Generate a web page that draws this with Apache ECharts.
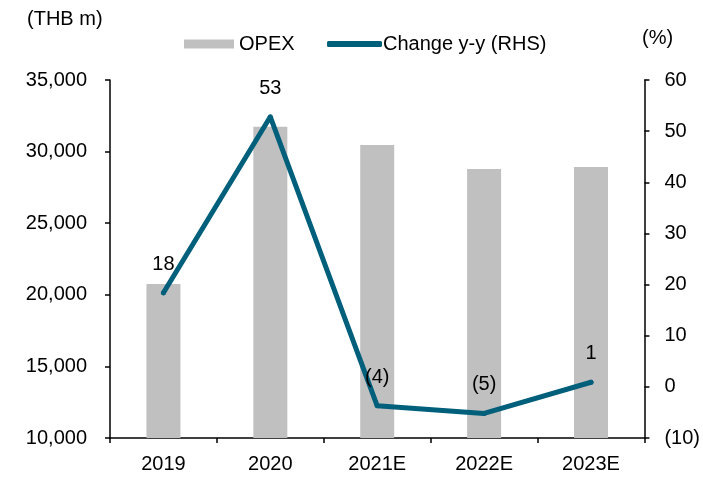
<!DOCTYPE html>
<html>
<head>
<meta charset="utf-8">
<script src="https://cdn.jsdelivr.net/npm/echarts@6/dist/echarts.min.js"></script>
<style>
  html, body { margin: 0; padding: 0; background: #fff; }
  #chart { width: 703px; height: 477px; }
</style>
</head>
<body>
<div id="chart"></div>
<script>
// chart data
const years = ['2019', '2020', '2021E', '2022E', '2023E'];
const opex = [20750, 31740, 30460, 28790, 28930];
const changeYY = [18.4, 52.8, -3.7, -5.2, 0.9];

const FONT = "'Liberation Sans', Arial, sans-serif";
const BAR_COLOR = '#c0c0c0';
const LINE_COLOR = '#005f7a';

// negatives in brackets, e.g. (4)
const fmtPct = (v) => {
  const r = Math.round(v);
  return r < 0 ? '(' + Math.abs(r) + ')' : String(r);
};

const chart = echarts.init(document.getElementById('chart'));

const axisLine = { show: true, onZero: false, lineStyle: { color: '#000', width: 1.5 } };
const axisTick = { show: true, length: 5, lineStyle: { color: '#000', width: 1.5 } };

const option = {
  backgroundColor: '#fff',
  animation: false,
  textStyle: { fontFamily: FONT },
  grid: { left: 110, right: 57, top: 80, bottom: 39 },
  legend: [
    {
      data: [{ name: 'OPEX', icon: 'rect' }],
      left: 179,
      top: 29,
      itemWidth: 50,
      itemHeight: 9,
      textStyle: { fontSize: 20, color: '#000', fontFamily: FONT, padding: [0, 0, 0, 0] }
    },
    {
      data: [{ name: 'Change y-y (RHS)', icon: 'roundRect' }],
      left: 322,
      top: 29,
      itemWidth: 55,
      itemHeight: 6,
      textStyle: { fontSize: 20, color: '#000', fontFamily: FONT, padding: [0, 0, 0, -4] }
    }
  ],
  graphic: [
    {
      type: 'text', left: 27, top: 9,
      style: { text: '(THB m)', fontSize: 20, fill: '#000', fontFamily: FONT }
    },
    {
      type: 'text', left: 642, top: 28,
      style: { text: '(%)', fontSize: 20, fill: '#000', fontFamily: FONT }
    }
  ],
  xAxis: {
    type: 'category',
    data: years,
    axisLine: axisLine,
    axisTick: axisTick,
    axisLabel: { fontSize: 20, color: '#000', margin: 16, fontFamily: FONT }
  },
  yAxis: [
    {
      type: 'value',
      min: 10000,
      max: 35000,
      interval: 5000,
      axisLine: axisLine,
      axisTick: axisTick,
      splitLine: { show: false },
      axisLabel: {
        fontSize: 20, color: '#000', margin: 23, fontFamily: FONT,
        formatter: (v) => v.toLocaleString('en-US')
      }
    },
    {
      type: 'value',
      min: -10,
      max: 60,
      interval: 10,
      position: 'right',
      axisLine: axisLine,
      axisTick: axisTick,
      splitLine: { show: false },
      axisLabel: {
        fontSize: 20, color: '#000', margin: 20, fontFamily: FONT,
        formatter: fmtPct
      }
    }
  ],
  series: [
    {
      name: 'OPEX',
      type: 'bar',
      data: opex,
      barWidth: 34,
      itemStyle: { color: BAR_COLOR }
    },
    {
      name: 'Change y-y (RHS)',
      type: 'line',
      yAxisIndex: 1,
      data: changeYY,
      symbol: 'circle',
      symbolSize: 5,
      itemStyle: { color: LINE_COLOR },
      lineStyle: { color: LINE_COLOR, width: 5, cap: 'round' },
      label: {
        show: true,
        position: 'top',
        distance: 16,
        fontSize: 20,
        color: '#000',
        fontFamily: FONT,
        formatter: (p) => fmtPct(p.value)
      }
    }
  ]
};

chart.setOption(option);
</script>
</body>
</html>
